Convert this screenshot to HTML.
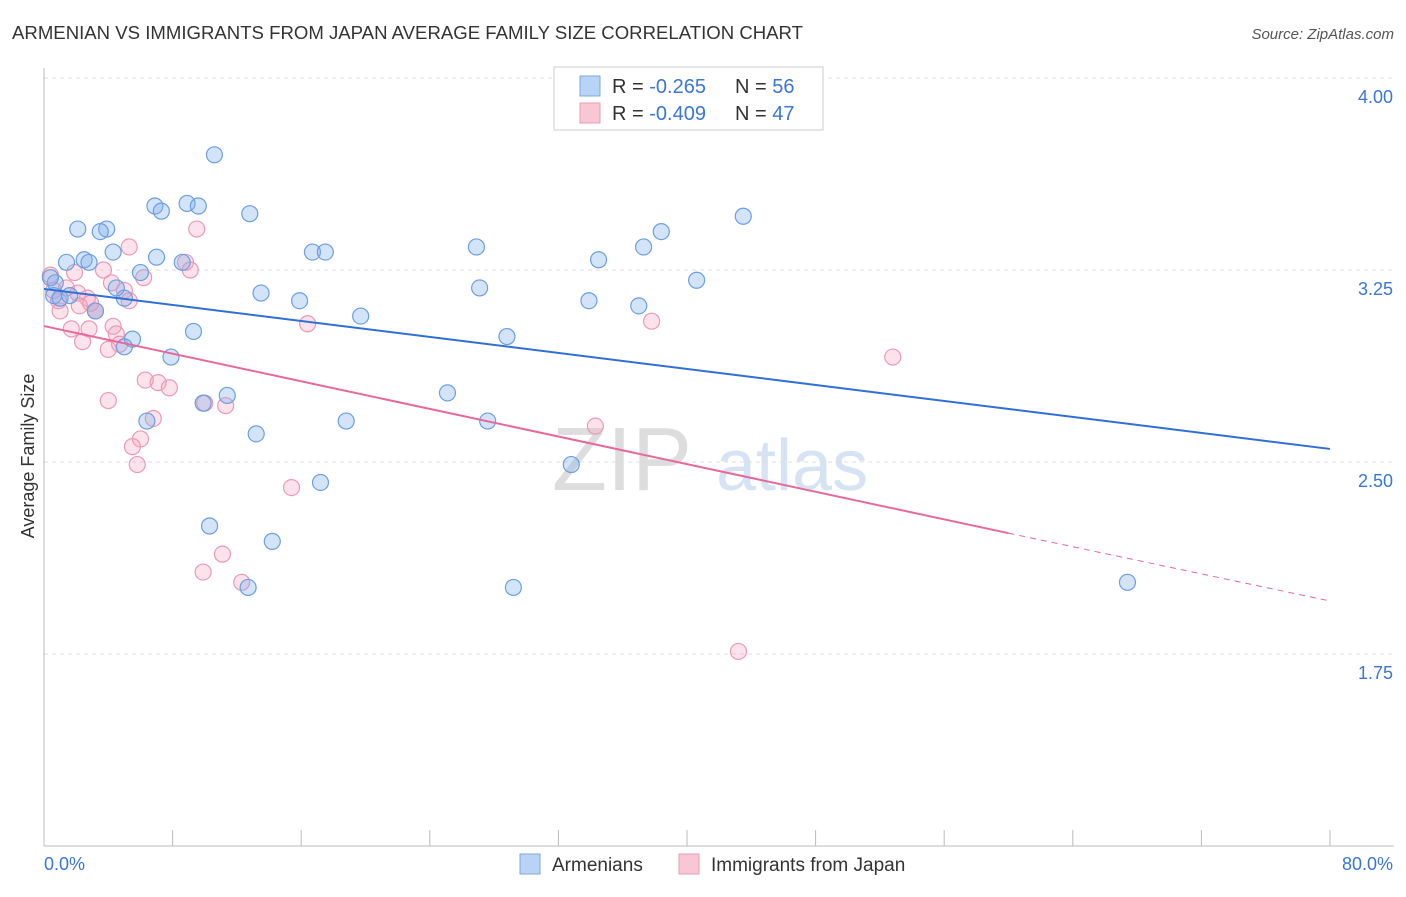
<!DOCTYPE html>
<html><head><meta charset="utf-8"><style>
body{margin:0;background:#fff;font-family:"Liberation Sans",sans-serif;}
svg text{font-family:"Liberation Sans",sans-serif;}
</style></head><body>
<svg id="chart" width="1406" height="892">
<text x="12" y="39" font-size="18" fill="#333" textLength="791" lengthAdjust="spacingAndGlyphs">ARMENIAN VS IMMIGRANTS FROM JAPAN AVERAGE FAMILY SIZE CORRELATION CHART</text>
<text x="1394" y="39" font-size="15" fill="#555" font-style="italic" text-anchor="end">Source: ZipAtlas.com</text>
<text x="34" y="456" font-size="18" fill="#333" text-anchor="middle" transform="rotate(-90 34 456)">Average Family Size</text>
<g><text x="552" y="490" font-size="90" fill="#ddd" font-family="Liberation Serif">ZIP</text><text x="716" y="490" font-size="72" fill="#d5e3f3">atlas</text></g>
<g id="grid"></g><g id="pts"></g><g id="lines"></g>
<g>
<rect x="554" y="67" width="269" height="63" fill="#fff" stroke="#ccc"/>
<rect x="580" y="76" width="20" height="20" fill="#b8d3f5" stroke="#7aa8e0"/>
<text x="612" y="93" font-size="20" fill="#333">R = <tspan fill="#3a76d8">-0.265</tspan></text>
<text x="735" y="93" font-size="20" fill="#333">N = <tspan fill="#3a76d8">56</tspan></text>
<rect x="580" y="103" width="20" height="20" fill="#f9c6d6" stroke="#e89ab4"/>
<text x="612" y="120" font-size="20" fill="#333">R = <tspan fill="#3a76d8">-0.409</tspan></text>
<text x="735" y="120" font-size="20" fill="#333">N = <tspan fill="#3a76d8">47</tspan></text>
</g>
<g>
<rect x="520" y="854" width="20" height="20" fill="#b8d3f5" stroke="#7aa8e0"/>
<text x="552" y="871" font-size="19" fill="#333">Armenians</text>
<rect x="679" y="854" width="20" height="20" fill="#f9c6d6" stroke="#e89ab4"/>
<text x="711" y="871" font-size="19" fill="#333">Immigrants from Japan</text>
</g>
<text x="44" y="870" font-size="18" fill="#3a76d8">0.0%</text>
<text x="1393" y="870" font-size="18" fill="#3a76d8" text-anchor="end">80.0%</text>
</svg>
<script>
const yTicks=[4.00,3.25,2.50,1.75];
const xTicks=[0,8,16,24,32,40,48,56,64,72,80];
const blueX=[10.6,6.9,7.3,8.9,9.6,12.8,2.1,3.9,3.5,1.4,2.5,2.8,4.3,7.0,6.0,8.6,16.7,17.5,26.9,34.5,37.3,38.4,43.5,40.6,27.1,13.5,15.9,19.7,33.9,37.0,28.8,9.3,5.5,5.0,4.5,3.2,5.0,7.9,0.6,1.0,1.6,0.7,0.4,25.1,11.4,9.9,6.4,18.8,27.6,13.2,32.8,17.2,10.3,14.2,12.7,29.2,67.4];
const blueY=[3.70,3.50,3.48,3.51,3.50,3.47,3.41,3.41,3.40,3.28,3.29,3.28,3.32,3.30,3.24,3.28,3.32,3.32,3.34,3.29,3.34,3.40,3.46,3.21,3.18,3.16,3.13,3.07,3.13,3.11,2.99,3.01,2.98,3.14,3.18,3.09,2.95,2.91,3.15,3.14,3.15,3.20,3.22,2.77,2.76,2.73,2.66,2.66,2.66,2.61,2.49,2.42,2.25,2.19,2.01,2.01,2.03];
const pinkX=[0.4,0.6,0.9,1.0,1.9,2.1,2.7,2.9,3.2,1.7,2.8,2.4,3.7,4.2,5.0,5.3,6.2,5.3,4.3,4.5,4.0,4.7,8.8,9.1,9.5,16.4,37.8,52.8,6.3,7.1,7.8,10.0,11.3,4.0,6.8,6.0,5.5,5.8,15.4,34.3,11.1,9.9,12.3,43.2,3.2,1.4,2.2];
const pinkY=[3.23,3.17,3.13,3.09,3.24,3.16,3.14,3.12,3.09,3.02,3.02,2.97,3.25,3.20,3.17,3.34,3.22,3.13,3.03,3.00,2.94,2.96,3.28,3.25,3.41,3.04,3.05,2.91,2.82,2.81,2.79,2.73,2.72,2.74,2.67,2.59,2.56,2.49,2.40,2.64,2.14,2.07,2.03,1.76,3.09,3.18,3.11];
const blueFit=[[0,3.176],[80,2.551]];
const pinkFit=[[0,3.031],[60,2.222],[80,1.957]];
const X=v=>44+v*16.075, Y=v=>78+(4-v)*256;
const NS="http://www.w3.org/2000/svg";
function mk(p,t,a){const e=document.createElementNS(NS,t);for(const k in a)e.setAttribute(k,a[k]);p.appendChild(e);return e;}
const grid=document.getElementById('grid');
yTicks.forEach(t=>{
 const l=mk(grid,'line',{x1:44,x2:1394,y1:Y(t),y2:Y(t),stroke:'#ddd','stroke-dasharray':'4,4'});
 
 
 const tx=mk(grid,'text',{x:1393,y:Y(t)+25,'font-size':18,fill:'#3a76d8','text-anchor':'end'});tx.textContent=t.toFixed(2);
 
 
});
mk(grid,'line',{x1:44,x2:44,y1:68,y2:846,stroke:'#bbb'});
mk(grid,'line',{x1:44,x2:1394,y1:846,y2:846,stroke:'#bbb'});
xTicks.forEach(t=>{const l=mk(grid,'line',{x1:X(t),x2:X(t),y1:830,y2:846,stroke:'#bbb'});
 
 });
const pts=document.getElementById('pts');
pinkX.forEach((x,i)=>{const c=mk(pts,'circle',{cx:X(x),cy:Y(pinkY[i]),r:8,fill:'rgba(244,160,190,0.3)',stroke:'#eb9ab6','stroke-width':1.2});
 
 });
blueX.forEach((x,i)=>{const c=mk(pts,'circle',{cx:X(x),cy:Y(blueY[i]),r:8,fill:'rgba(130,175,235,0.35)',stroke:'#6b9fe0','stroke-width':1.2});
 
 });
const lines=document.getElementById('lines');
const bl=mk(lines,'line',{x1:X(blueFit[0][0]),y1:Y(blueFit[0][1]),x2:X(blueFit[1][0]),y2:Y(blueFit[1][1]),stroke:'#2f6fd6','stroke-width':2});


const pl=mk(lines,'line',{x1:X(pinkFit[0][0]),y1:Y(pinkFit[0][1]),x2:X(pinkFit[1][0]),y2:Y(pinkFit[1][1]),stroke:'#e8689a','stroke-width':2});


const pd=mk(lines,'line',{x1:X(pinkFit[1][0]),y1:Y(pinkFit[1][1]),x2:X(pinkFit[2][0]),y2:Y(pinkFit[2][1]),stroke:'#e8689a','stroke-width':1,'stroke-dasharray':'6,5'});


</script>
</body></html>
